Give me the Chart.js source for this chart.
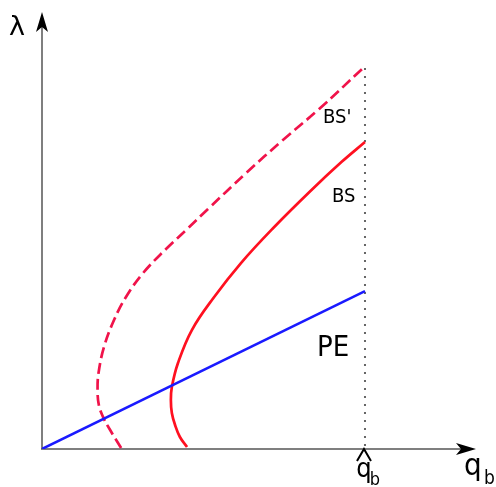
<!DOCTYPE html>
<html>
<head>
<meta charset="utf-8">
<script src="https://cdn.jsdelivr.net/npm/chart.js@4"></script>
<style>
  html, body { margin: 0; padding: 0; background: #fff; }
  #wrap { width: 496px; height: 487px; }
</style>
</head>
<body>
<div id="wrap"><canvas id="chart" width="496" height="487"></canvas></div>
<script>
// q scaled so that q-hat = 1, lambda scaled so that PE(q-hat) = 1
var qHat = 1;
var peQ = [0, 1];
var peLambda = [0, 1];

var bsQ = [0.449, 0.427, 0.412, 0.402, 0.399, 0.402, 0.421, 0.464, 0.533, 0.616, 0.716, 0.828, 0.927, 1.000];
var bsLambda = [0.013, 0.076, 0.152, 0.228, 0.310, 0.392, 0.544, 0.753, 0.962, 1.177, 1.399, 1.627, 1.816, 1.943];

var bs2Q = [0.245, 0.211, 0.189, 0.176, 0.172, 0.175, 0.192, 0.223, 0.260, 0.313, 0.384, 0.446, 0.514, 0.632, 0.746, 0.858, 0.994];
var bs2Lambda = [0.006, 0.120, 0.203, 0.278, 0.373, 0.481, 0.646, 0.816, 0.962, 1.114, 1.266, 1.386, 1.519, 1.747, 1.956, 2.152, 2.411];

function pts(xs, ys) {
    return xs.map(function(x, i) { return {x: x, y: ys[i]}; });
}

function arrow(ctx, x, y, dir) {
    // concave arrow head, tip at (x, y)
    ctx.save();
    ctx.translate(x, y);
    if (dir == 'right') ctx.rotate(Math.PI / 2);
    ctx.fillStyle = '#000';
    ctx.beginPath();
    ctx.moveTo(0, 0);
    ctx.lineTo(6, 20);
    ctx.lineTo(0, 15);
    ctx.lineTo(-6, 20);
    ctx.closePath();
    ctx.fill();
    ctx.restore();
}

var axesPlugin = {
    id: 'axes',
    beforeDatasetsDraw: function(chart) {
        var ctx = chart.ctx;
        var xs = chart.scales.x, ys = chart.scales.y;
        var x0 = xs.getPixelForValue(0), y0 = ys.getPixelForValue(0);
        var xq = xs.getPixelForValue(qHat);
        ctx.save();
        // dotted q-hat line
        ctx.strokeStyle = '#666';
        ctx.lineWidth = 2;
        ctx.setLineDash([2, 6]);
        ctx.beginPath();
        ctx.moveTo(xq, ys.getPixelForValue(bs2Lambda[bs2Lambda.length - 1]));
        ctx.lineTo(xq, y0);
        ctx.stroke();
        ctx.setLineDash([]);
        // axes
        ctx.strokeStyle = '#555';
        ctx.lineWidth = 1.5;
        ctx.beginPath();
        ctx.moveTo(x0, y0);
        ctx.lineTo(x0, chart.chartArea.top + 8);
        ctx.moveTo(x0 - 1, y0);
        ctx.lineTo(chart.chartArea.right - 8, y0);
        ctx.stroke();
        ctx.restore();
        arrow(ctx, x0, chart.chartArea.top - 3, 'up');
        arrow(ctx, chart.chartArea.right + 2, y0, 'right');
    },
    afterDatasetsDraw: function(chart) {
        var ctx = chart.ctx;
        var xs = chart.scales.x;
        var xq = xs.getPixelForValue(qHat);
        ctx.save();
        ctx.fillStyle = '#000';
        ctx.textBaseline = 'alphabetic';
        ctx.textAlign = 'left';
        ctx.font = '27px "DejaVu Sans"';
        ctx.fillText('λ', 9, 35);
        // q_b axis label
        ctx.font = '31px "DejaVu Sans Condensed"';
        ctx.fillText('q', 464, 475);
        ctx.font = '19px "DejaVu Sans Condensed"';
        ctx.fillText('b', 484, 484);
        // q-hat_b tick label
        ctx.font = '27px "DejaVu Sans Condensed"';
        ctx.textAlign = 'center';
        ctx.fillText('q', xq - 1, 477);
        ctx.font = '18px "DejaVu Sans Condensed"';
        ctx.fillText('b', xq + 10, 485);
        ctx.strokeStyle = '#000';
        ctx.lineWidth = 2;
        ctx.beginPath();
        ctx.moveTo(xq - 8, 461);
        ctx.lineTo(xq - 1, 449);
        ctx.lineTo(xq + 6, 461);
        ctx.stroke();
        // curve labels
        ctx.textAlign = 'left';
        ctx.font = '20px "DejaVu Sans Condensed"';
        ctx.fillText("BS'", 323, 123);
        ctx.fillText('BS', 332, 202);
        ctx.font = '29px "DejaVu Sans Condensed"';
        ctx.fillText('PE', 317, 356);
        ctx.restore();
    }
};

var ctx = document.getElementById('chart').getContext('2d');
var chart = new Chart(ctx, {
    type: 'scatter',
    data: {
        datasets: [
            {
                label: 'PE',
                data: pts(peQ, peLambda),
                showLine: true,
                borderColor: '#1a1aff',
                borderWidth: 2.5,
                pointRadius: 0,
                tension: 0
            },
            {
                label: 'BS',
                data: pts(bsQ, bsLambda),
                showLine: true,
                borderColor: '#ff1020',
                borderWidth: 2.7,
                pointRadius: 0,
                tension: 0.4
            },
            {
                label: "BS'",
                data: pts(bs2Q, bs2Lambda),
                showLine: true,
                borderColor: '#f0134a',
                borderWidth: 2.7,
                borderDash: [11, 5],
                pointRadius: 0,
                tension: 0.4
            }
        ]
    },
    options: {
        responsive: false,
        animation: false,
        layout: { padding: { left: 42, top: 15, right: 22, bottom: 38 } },
        plugins: {
            legend: { display: false },
            tooltip: { enabled: false }
        },
        scales: {
            x: { type: 'linear', min: 0, max: 1.3375, display: false },
            y: { type: 'linear', min: 0, max: 2.747, display: false }
        }
    },
    plugins: [axesPlugin]
});
</script>
</body>
</html>
